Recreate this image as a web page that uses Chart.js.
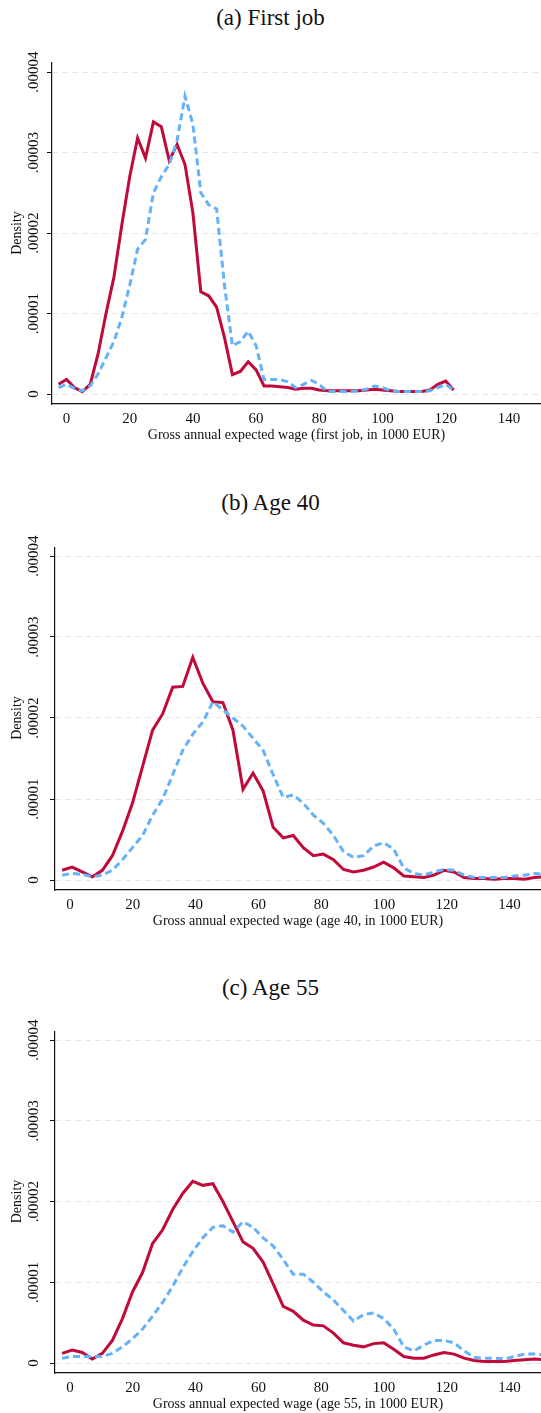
<!DOCTYPE html>
<html>
<head>
<meta charset="utf-8">
<script src="https://cdn.jsdelivr.net/npm/chart.js@4/dist/chart.umd.min.js"></script>
<style>
  body { margin: 0; background: #fff; width: 541px; height: 1413px; position: relative; overflow: hidden; }
  .ttl { position: absolute; left: 0; width: 541px; text-align: center; font-family: "Liberation Serif", serif; font-size: 23px; color: #111; }
  .box { position: absolute; left: 0; width: 541px; }
</style>
</head>
<body>
<div class="ttl" style="top:5px">(a) First job</div>
<div class="ttl" style="top:490px">(b) Age 40</div>
<div class="ttl" style="top:975px">(c) Age 55</div>
<div class="box" id="b1"><canvas id="c1"></canvas></div>
<div class="box" id="b2"><canvas id="c2"></canvas></div>
<div class="box" id="b3"><canvas id="c3"></canvas></div>
<script>
// values in units of 0.00001
const xFirst = [-2.5,0,2.5,5,7.5,10,12.5,15,17.5,20,22.5,25,27.5,30,32.5,35,37.5,40,42.5,45,47.5,50,52.5,55,57.5,60,62.5,65,67.5,70,72.5,75,77.5,80,82.5,85,87.5,90,92.5,95,97.5,100,102.5,105,107.5,110,112.5,115,117.5,120,122.5];
const redFirst = [0.12,0.18,0.08,0.03,0.12,0.5,1.0,1.45,2.1,2.7,3.18,2.93,3.38,3.32,2.9,3.1,2.85,2.25,1.27,1.22,1.08,0.7,0.24,0.28,0.4,0.3,0.1,0.1,0.09,0.08,0.06,0.07,0.07,0.05,0.04,0.04,0.04,0.04,0.04,0.05,0.06,0.05,0.04,0.03,0.03,0.03,0.03,0.05,0.12,0.16,0.05];
const blueFirst = [0.08,0.12,0.07,0.04,0.1,0.25,0.45,0.65,0.95,1.35,1.8,1.92,2.5,2.7,2.85,3.15,3.7,3.35,2.5,2.35,2.3,1.35,0.6,0.65,0.78,0.6,0.18,0.18,0.18,0.15,0.08,0.12,0.17,0.12,0.03,0.03,0.03,0.03,0.04,0.06,0.1,0.08,0.04,0.03,0.03,0.03,0.03,0.04,0.08,0.12,0.05];

const xAge = [-2.5,0.7,3.9,7.1,10.3,13.5,16.7,19.9,23.1,26.3,29.5,32.7,35.9,39.1,42.3,45.5,48.7,51.9,55.1,58.3,61.5,64.7,67.9,71.1,74.3,77.5,80.7,83.9,87.1,90.3,93.5,96.7,99.9,103.1,106.3,109.5,112.7,115.9,119.1,122.3,125.5,128.7,131.9,135.1,138.3,141.5,144.7,147.9,151.1,154.3];
const red40 = [0.12,0.16,0.1,0.04,0.12,0.3,0.6,0.95,1.4,1.85,2.05,2.38,2.39,2.75,2.43,2.2,2.19,1.85,1.12,1.32,1.1,0.65,0.52,0.55,0.4,0.3,0.32,0.25,0.13,0.1,0.12,0.16,0.22,0.15,0.05,0.04,0.03,0.06,0.12,0.1,0.03,0.02,0.02,0.01,0.02,0.02,0.01,0.03,0.04,0.02];
const blue40 = [0.06,0.08,0.07,0.04,0.06,0.12,0.25,0.4,0.55,0.8,1.0,1.3,1.6,1.8,1.95,2.2,2.1,2.0,1.9,1.75,1.6,1.3,1.02,1.05,0.95,0.8,0.7,0.55,0.35,0.28,0.3,0.42,0.46,0.38,0.15,0.08,0.06,0.1,0.13,0.12,0.06,0.03,0.03,0.03,0.03,0.05,0.06,0.08,0.07,0.05];
const red55 = [0.12,0.16,0.13,0.05,0.12,0.28,0.55,0.88,1.12,1.48,1.65,1.9,2.1,2.25,2.2,2.22,2.0,1.75,1.5,1.42,1.25,0.98,0.7,0.64,0.53,0.47,0.46,0.37,0.25,0.22,0.2,0.24,0.25,0.17,0.08,0.06,0.06,0.1,0.13,0.11,0.06,0.03,0.02,0.02,0.02,0.03,0.04,0.05,0.04,0.02];
const blue55 = [0.06,0.08,0.08,0.08,0.08,0.12,0.2,0.3,0.42,0.58,0.75,0.95,1.18,1.38,1.55,1.68,1.7,1.62,1.75,1.68,1.55,1.45,1.28,1.1,1.1,1.0,0.88,0.78,0.65,0.52,0.6,0.62,0.55,0.42,0.2,0.15,0.22,0.28,0.28,0.25,0.15,0.07,0.06,0.06,0.05,0.08,0.11,0.11,0.1,0.07];

const yTicks = [0, 0.00001, 0.00002, 0.00003, 0.00004];
const yTickLabels = ['0', '.00001', '.00002', '.00003', '.00004'];
const xTicks = [0, 20, 40, 60, 80, 100, 120, 140];

const RED = '#bf0a3a', BLUE = '#66b2fa';
const FONT = '"Liberation Serif", serif';

const pts = (xs, ys) => xs.map((x, i) => ({ x: x, y: ys[i] * 1e-5 }));

// draws the rotated y tick labels and the "Density" title
const yLabels = {
	id: 'yLabels',
	afterDraw(chart) {
		const ctx = chart.ctx, y = chart.scales.y;
		ctx.save();
		ctx.fillStyle = '#111';
		ctx.font = '15px ' + FONT;
		ctx.textAlign = 'center';
		ctx.textBaseline = 'middle';
		yTicks.forEach((v, i) => {
			ctx.save();
			ctx.translate(34, y.getPixelForValue(v));
			ctx.rotate(-Math.PI / 2);
			ctx.fillText(yTickLabels[i], 0, 0);
			ctx.restore();
		});
		ctx.translate(17, y.getPixelForValue(0.00002));
		ctx.rotate(-Math.PI / 2);
		ctx.font = '14px ' + FONT;
		ctx.fillText('Density', 0, 0);
		ctx.restore();
	}
};

function panel(id, box, o, xs, red, blue, xTitle) {
	const unit = o.unitPx;
	const perY = (o.zeroPx - o.fourPx) / 0.00004;
	const h = o.axisBottom + 40 - o.canvasTop;
	const b = document.getElementById(box);
	b.style.top = o.canvasTop + 'px';
	b.style.height = h + 'px';
	new Chart(document.getElementById(id), {
		type: 'line',
		data: {
			datasets: [
				{ data: pts(xs, blue), borderColor: BLUE, borderWidth: 3, borderDash: [7, 4], pointRadius: 0, tension: 0 },
				{ data: pts(xs, red), borderColor: RED, borderWidth: 3, pointRadius: 0, tension: 0 }
			]
		},
		options: {
			responsive: true,
			maintainAspectRatio: false,
			animation: false,
			layout: { padding: { top: o.axisTop - o.canvasTop, right: 0, left: 0, bottom: 0 } },
			plugins: { legend: { display: false }, tooltip: { enabled: false } },
			scales: {
				x: {
					type: 'linear',
					min: (o.axisX - o.x0Px) / unit,
					max: (541 - o.x0Px) / unit,
					afterBuildTicks: (s) => { s.ticks = xTicks.map(v => ({ value: v })); },
					afterFit: (s) => { s.height = 40; },
					grid: { display: false, drawOnChartArea: false, drawTicks: true, tickLength: 5, tickColor: '#111' },
					border: { color: '#111', width: 1.2 },
					ticks: { color: '#111', font: { family: FONT, size: 15 }, padding: 1, maxRotation: 0 },
					title: { display: true, text: xTitle, color: '#111', font: { family: FONT, size: 14 }, padding: 0 }
				},
				y: {
					min: -(o.axisBottom - o.zeroPx) / perY,
					max: 0.00004 + (o.fourPx - o.axisTop) / perY,
					afterBuildTicks: (s) => { s.ticks = yTicks.map(v => ({ value: v })); },
					afterFit: (s) => { s.width = o.axisX; },
					grid: { color: '#e6e6e6', lineWidth: 1, tickLength: 5, tickColor: '#111', drawTicks: true },
					border: { color: '#111', width: 1.2, dash: [6, 4] },
					ticks: { display: false }
				}
			}
		},
		plugins: [yLabels]
	});
}

panel('c1', 'b1', { canvasTop: 40, axisTop: 63, fourPx: 72, zeroPx: 394, axisBottom: 404, axisX: 52, x0Px: 66.5, unitPx: 3.16 },
	xFirst, redFirst, blueFirst, 'Gross annual expected wage (first job, in 1000 EUR)');
panel('c2', 'b2', { canvasTop: 525, axisTop: 548, fourPx: 556, zeroPx: 880, axisBottom: 890, axisX: 55, x0Px: 70, unitPx: 3.14 },
	xAge, red40, blue40, 'Gross annual expected wage (age 40, in 1000 EUR)');
panel('c3', 'b3', { canvasTop: 1010, axisTop: 1032, fourPx: 1040, zeroPx: 1363, axisBottom: 1373, axisX: 55, x0Px: 70, unitPx: 3.14 },
	xAge, red55, blue55, 'Gross annual expected wage (age 55, in 1000 EUR)');
</script>
</body>
</html>
